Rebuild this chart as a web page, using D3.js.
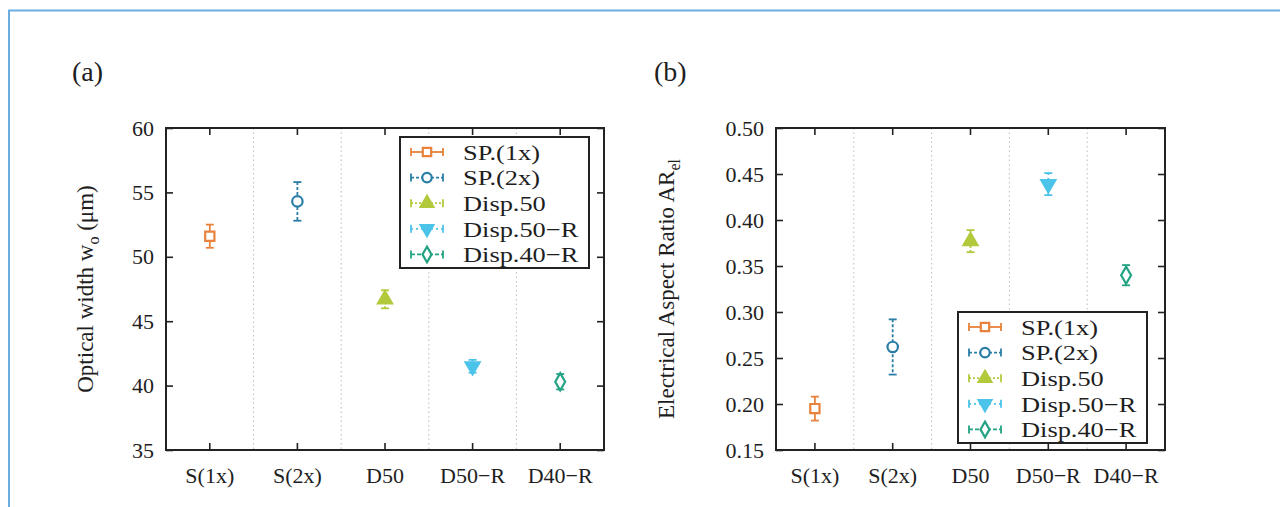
<!DOCTYPE html>
<html>
<head>
<meta charset="utf-8">
<script src="https://cdn.jsdelivr.net/npm/d3@7"></script>
<style>
  body { margin: 0; background: #fff; }
  text { font-family: "Liberation Serif", "DejaVu Serif", serif; fill: #1e1e1e; }
</style>
</head>
<body>
<svg id="svg"></svg>
<script>
const svg = d3.select("#svg")
    .attr("width", 1280)
    .attr("height", 507)

// data
const categories = ["S(1x)", "S(2x)", "D50", "D50\u2212R", "D40\u2212R"]
const seriesNames = ["SP.(1x)", "SP.(2x)", "Disp.50", "Disp.50\u2212R", "Disp.40\u2212R"]

const widthValues = [51.6, 54.3, 46.7, 41.5, 40.3]
const widthErrors = [0.9, 1.5, 0.7, 0.5, 0.6]
const widthTicks = [35, 40, 45, 50, 55, 60]

const ratioValues = [0.195, 0.262, 0.377, 0.439, 0.340]
const ratioErrors = [0.013, 0.030, 0.012, 0.012, 0.011]
const ratioTicks = [0.15, 0.20, 0.25, 0.30, 0.35, 0.40, 0.45, 0.50]

// look of each series
const colors = ["#e8823c", "#2a7ea6", "#b3c93c", "#4cc3e8", "#23a383"]
const symbols = [d3.symbolSquare, d3.symbolCircle, d3.symbolTriangle, d3.symbolTriangle, d3.symbolDiamond]
const filled = [false, false, true, true, false]
const rotate = [0, 0, 0, 180, 0]
const dashes = [null, "3,2", "2,2", "2,3", "4,2"]

// light blue frame around the figure
svg.append("path")
    .attr("d", "M9,507 V10.5 H1280")
    .attr("fill", "none")
    .attr("stroke", "#6aafe0")
    .attr("stroke-width", 2)

function drawPanel(p) {
    const g = svg.append("g").attr("transform", `translate(${p.left},${p.top})`)

    const x = d3.scaleBand()
        .domain(categories)
        .range([0, p.width])

    const y = d3.scaleLinear()
        .domain(p.domain)
        .range([p.height, 0])

    // dotted separators between categories
    g.selectAll(".sep")
        .data(categories.slice(1))
        .join("line")
        .attr("x1", d => x(d))
        .attr("x2", d => x(d))
        .attr("y1", 0)
        .attr("y2", p.height)
        .attr("stroke", "#bbb")
        .attr("stroke-dasharray", "1.5,3")

    g.append("g")
        .attr("transform", `translate(0,${p.height})`)
        .call(d3.axisBottom(x).tickSize(-7).tickPadding(17))
        .call(a => a.select(".domain").remove())
        .call(a => a.selectAll("text").attr("font-size", 22))

    g.append("g")
        .call(d3.axisTop(x).tickSize(-7).tickFormat(""))
        .call(a => a.select(".domain").remove())

    g.append("g")
        .call(d3.axisLeft(y).tickValues(p.ticks).tickSize(-7).tickPadding(12).tickFormat(p.format))
        .call(a => a.select(".domain").remove())
        .call(a => a.selectAll("text").attr("font-size", 22))

    g.append("g")
        .attr("transform", `translate(${p.width},0)`)
        .call(d3.axisRight(y).tickValues(p.ticks).tickSize(-7).tickFormat(""))
        .call(a => a.select(".domain").remove())

    g.selectAll(".tick line").attr("stroke", "#222").attr("stroke-width", 1.6)

    g.append("rect")
        .attr("width", p.width)
        .attr("height", p.height)
        .attr("fill", "none")
        .attr("stroke", "#222")
        .attr("stroke-width", 2)

    // error bars and markers
    const pts = g.selectAll(".pt")
        .data(p.values.map((v, i) => ({ v, e: p.errors[i], i, cat: categories[i] })))
        .join("g")
        .attr("transform", d => `translate(${x(d.cat) + x.bandwidth() / 2},0)`)

    pts.append("line")
        .attr("y1", d => y(d.v + d.e))
        .attr("y2", d => y(d.v - d.e))
        .attr("stroke", d => colors[d.i])
        .attr("stroke-width", 1.8)
        .attr("stroke-dasharray", d => dashes[d.i])

    pts.selectAll(".cap")
        .data(d => [d.v + d.e, d.v - d.e].map(c => ({ c, i: d.i })))
        .join("line")
        .attr("x1", -4)
        .attr("x2", 4)
        .attr("y1", d => y(d.c))
        .attr("y2", d => y(d.c))
        .attr("stroke", d => colors[d.i])
        .attr("stroke-width", 1.8)

    pts.append("path")
        .attr("transform", d => `translate(0,${y(d.v)}) rotate(${rotate[d.i]})`)
        .attr("d", d => d3.symbol(symbols[d.i], 85)())
        .attr("fill", d => filled[d.i] ? colors[d.i] : "#fff")
        .attr("stroke", d => colors[d.i])
        .attr("stroke-width", 2.2)

    // legend
    const lg = g.append("g").attr("transform", `translate(${p.legendX},${p.legendY})`)
    lg.append("rect")
        .attr("width", 189)
        .attr("height", 131)
        .attr("fill", "#fff")
        .attr("stroke", "#222")
        .attr("stroke-width", 2)

    const rows = lg.selectAll(".row")
        .data(seriesNames)
        .join("g")
        .attr("transform", (d, i) => `translate(0,${15 + i * 25.6})`)

    rows.append("line")
        .attr("x1", 11).attr("x2", 43)
        .attr("stroke", (d, i) => colors[i])
        .attr("stroke-width", 1.8)
        .attr("stroke-dasharray", (d, i) => dashes[i])
    rows.selectAll(".lcap")
        .data((d, i) => [11, 43].map(c => ({ c, i })))
        .join("line")
        .attr("x1", d => d.c).attr("x2", d => d.c)
        .attr("y1", -4).attr("y2", 4)
        .attr("stroke", d => colors[d.i])
        .attr("stroke-width", 1.8)
    rows.append("path")
        .attr("transform", (d, i) => `translate(27,0) rotate(${rotate[i]})`)
        .attr("d", (d, i) => d3.symbol(symbols[i], 70)())
        .attr("fill", (d, i) => filled[i] ? colors[i] : "#fff")
        .attr("stroke", (d, i) => colors[i])
        .attr("stroke-width", 2.2)
    // legend labels: tall serif, stretched sideways like the original
    rows.append("text")
        .attr("transform", "translate(63,0) scale(1.2,1)")
        .attr("dy", "0.35em")
        .attr("font-size", 22)
        .text(d => d)

    // y axis title
    const title = g.append("text")
        .attr("transform", `translate(${p.titleX},${p.height / 2}) rotate(-90)`)
        .attr("text-anchor", "middle")
        .attr("font-size", 23)
    title.append("tspan").text(p.title)
    title.append("tspan").attr("font-size", 16).attr("dy", 6).text(p.sub)
    if (p.tail) title.append("tspan").attr("dy", -6).text(p.tail)

    // panel letter
    svg.append("text")
        .attr("x", p.letterX)
        .attr("y", 81)
        .attr("font-size", 28)
        .text(p.letter)
}

drawPanel({
    left: 166, top: 128, width: 438, height: 322,
    domain: [35, 60], ticks: widthTicks, format: d3.format("d"),
    values: widthValues, errors: widthErrors,
    legendX: 234, legendY: 9,
    title: "Optical width w", sub: "o", tail: " (\u03bcm)", titleX: -73,
    letter: "(a)", letterX: 72
})

drawPanel({
    left: 776, top: 128, width: 389, height: 322,
    domain: [0.15, 0.50], ticks: ratioTicks, format: d3.format(".2f"),
    values: ratioValues, errors: ratioErrors,
    legendX: 182, legendY: 184,
    title: "Electrical Aspect Ratio AR", sub: "el", tail: null, titleX: -102,
    letter: "(b)", letterX: 654
})
</script>
</body>
</html>
